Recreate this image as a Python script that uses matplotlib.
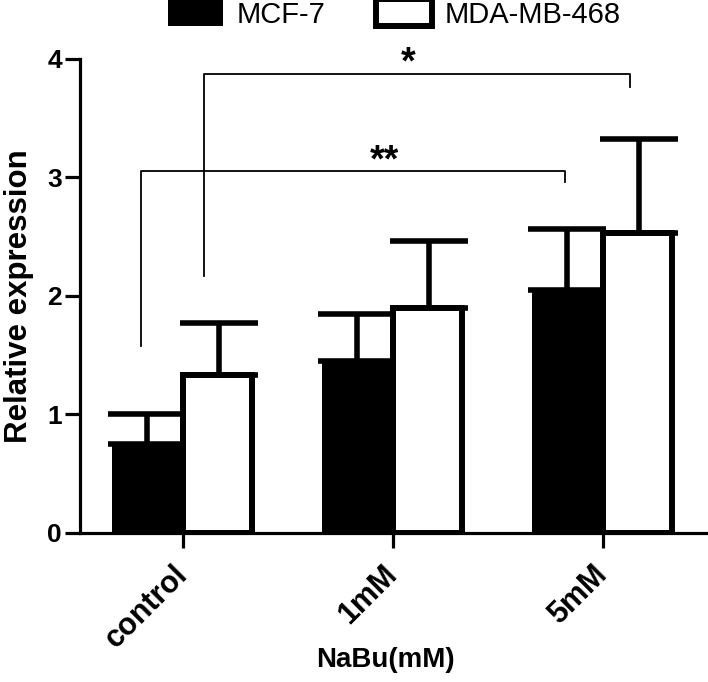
import numpy as np
import matplotlib
matplotlib.use("Agg")
import matplotlib.pyplot as plt

plt.rcParams['font.family'] = ['Liberation Sans', 'DejaVu Sans']

groups = ['control', '1mM', '5mM']
series = ['MCF-7', 'MDA-MB-468']
mcf7 = [0.75, 1.45, 2.05]
mcf7_err = [0.25, 0.40, 0.51]
mda = [1.33, 1.90, 2.53]
mda_err = [0.44, 0.56, 0.79]

# significance brackets: (x left, x right, y line, y left end, y right end, label, label x)
brackets = [
    (-0.20, 1.82, 3.05, 1.58, 2.96, '**', 0.96),
    (0.10, 2.13, 3.87, 2.17, 3.76, '*', 1.07),
]

fig = plt.figure(figsize=(7.08, 6.82), dpi=100)
ax = fig.add_axes([80 / 708, 1 - 533 / 682, 628 / 708, 474.5 / 682])

x = np.arange(len(groups))
w = 0.34
ax.bar(x - w / 2, mcf7, w, color='black', edgecolor='black', linewidth=0, zorder=2,
       label=series[0])
ax.bar(x + w / 2 - 0.005, mda, w - 0.01, color='white', edgecolor='black', linewidth=4.3,
       zorder=3, label=series[1])

ax.errorbar(x - w / 2, mcf7, yerr=[np.zeros(3), mcf7_err], fmt='none', ecolor='black',
            elinewidth=4, capsize=28, capthick=4, zorder=1)
ax.errorbar(x + w / 2, mda, yerr=[np.zeros(3), mda_err], fmt='none', ecolor='black',
            elinewidth=4, capsize=28, capthick=4, zorder=1)

for x0, x1, yl, y0, y1, lab, xt in brackets:
    ax.plot([x0, x0, x1, x1], [y0, yl, yl, y1], color='black', lw=1.3, clip_on=False)
    ax.text(xt, yl + 0.0, lab, ha='center', va='baseline', fontsize=27,
            fontweight='bold', clip_on=False)

ax.set_xlim(-0.49, 2.5)
ax.set_ylim(0, 4)
ax.spines['top'].set_visible(False)
ax.spines['right'].set_visible(False)
ax.spines['left'].set_linewidth(2.3)
ax.spines['bottom'].set_linewidth(2.3)

ax.set_yticks([0, 1, 2, 3, 4])
ax.set_yticklabels(['0', '1', '2', '3', '4'], fontsize=19, fontweight='bold')
ax.set_xticks(x)
ax.set_xticklabels(groups, fontsize=22, fontweight='bold', rotation=45, ha='right',
                   va='center', rotation_mode='anchor')
ax.tick_params(axis='both', direction='out', length=11, width=2.3, color='black')
ax.tick_params(axis='x', pad=16)
ax.tick_params(axis='y', pad=2)

ax.set_ylabel('Relative expression', fontsize=22.5, fontweight='bold')
ax.yaxis.set_label_coords(-0.074, 0.5)
ax.set_xlabel('NaBu(mM)', fontsize=20, fontweight='bold')
ax.xaxis.set_label_coords(0.487, -0.24)

fig.legend(loc='center left', bbox_to_anchor=(168 / 708, 1 - 14 / 682), ncol=2,
           frameon=False, fontsize=21, handlelength=1.9, handleheight=1.0,
           handletextpad=0.45, columnspacing=1.75, borderpad=0, borderaxespad=0)

fig.savefig('out.png', dpi=100)
